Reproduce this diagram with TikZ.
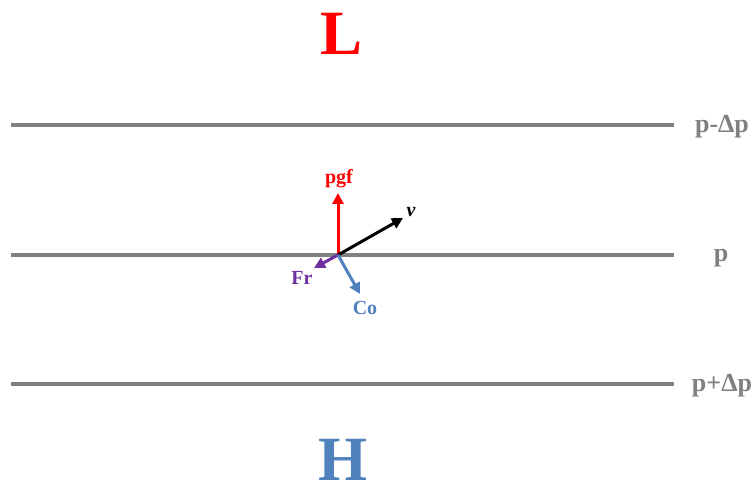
\documentclass[tikz,border=0pt]{standalone}
\usepackage{fontspec}
\setmainfont{Liberation Serif}
\usetikzlibrary{arrows.meta}
\definecolor{lvl}{RGB}{128,128,128}
\definecolor{pgfred}{RGB}{255,0,0}
\definecolor{frpurple}{RGB}{112,48,160}
\definecolor{coblue}{RGB}{79,129,189}
\begin{document}
\begin{tikzpicture}[x=1pt,y=-1pt,
  level/.style={draw=lvl,line width=4pt},
  lvllabel/.style={text=lvl,font=\bfseries\fontsize{26}{28}\selectfont},
  vec/.style={line width=3pt,-{Triangle[length=11pt,width=11pt]}},
  veclabel/.style={font=\bfseries\fontsize{20}{22}\selectfont},
  big/.style={font=\bfseries\fontsize{63}{66}\selectfont,inner sep=0pt,anchor=base}]
\useasboundingbox (0,0) rectangle (753,494);
% levels
\coordinate (a1) at (11,125); \coordinate (a2) at (674,125);
\coordinate (b1) at (11,255); \coordinate (b2) at (674,255);
\coordinate (c1) at (11,384); \coordinate (c2) at (674,384);
\draw[level] (a1) -- (a2);
\draw[level] (b1) -- (b2);
\draw[level] (c1) -- (c2);
\node[lvllabel] (la) at (722,127) {p-\symbol{"0394}p};
\node[lvllabel] (lb) at (721,258) {p};
\node[lvllabel] (lc) at (722,386) {p+\symbol{"0394}p};
% L and H
\node[big,text=pgfred] (L) at (342,55) {L};
\node[big,text=coblue] (H) at (343,480) {H};
% vectors
\coordinate (o) at (338,255);
\coordinate (tpgf) at (338,193);
\coordinate (tv) at (403,218);
\coordinate (tfr) at (314,268);
\coordinate (tco) at (360,294);
\draw[vec,draw=pgfred,fill=pgfred] (o) -- (tpgf);
\draw[vec,draw=black,fill=black] (o) -- (tv);
\draw[vec,draw=frpurple,fill=frpurple] (o) -- (tfr);
\draw[vec,draw=coblue,fill=coblue] (o) -- (tco);
\node[veclabel,text=pgfred] (npgf) at (339,179) {pgf};
\node[veclabel,text=black] (nv) at (411,212) {\itshape v};
\node[veclabel,text=frpurple] (nfr) at (302,278) {Fr};
\node[veclabel,text=coblue] (nco) at (365,308) {Co};
\end{tikzpicture}
\end{document}
